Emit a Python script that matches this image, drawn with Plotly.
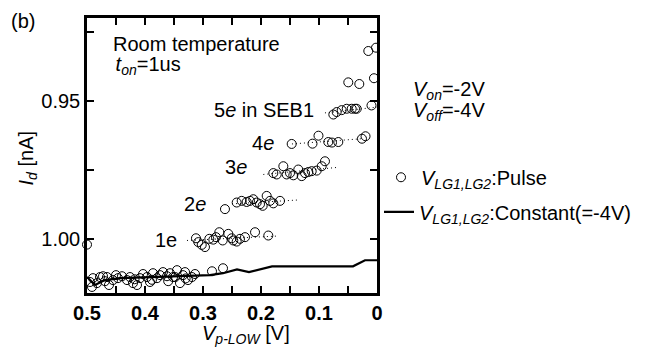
import plotly.graph_objects as go

FONT = "Liberation Sans, Arial, sans-serif"

# ---- data ----
# baseline (0e) pulse points
x0 = [0.4948, 0.4914, 0.4897, 0.4828, 0.4776, 0.4724, 0.4690, 0.4655, 0.4621, 0.4552,
      0.4500, 0.4466, 0.4397, 0.4310, 0.4259, 0.4207, 0.4180, 0.4138, 0.4086, 0.4034,
      0.3966, 0.3914, 0.3880, 0.3862, 0.3793, 0.3741, 0.3690, 0.3621, 0.3600, 0.3569,
      0.3517, 0.3480, 0.3448, 0.3397, 0.3345, 0.3310, 0.3300, 0.3259, 0.3190, 0.3138,
      0.2845, 0.2655]
y0 = [1.0158, 1.0176, 1.0144, 1.0162, 1.0140, 1.0137, 1.0155, 1.0140, 1.0169, 1.0151,
      1.0133, 1.0144, 1.0137, 1.0151, 1.0140, 1.0162, 1.0148, 1.0169, 1.0144, 1.0129,
      1.0140, 1.0158, 1.0150, 1.0126, 1.0144, 1.0133, 1.0122, 1.0137, 1.0155, 1.0126,
      1.0140, 1.0140, 1.0115, 1.0162, 1.0133, 1.0122, 1.0145, 1.0151, 1.0140, 1.0129,
      1.0119, 1.0108]
# 1e
x1 = [0.3121, 0.3081, 0.3022, 0.2966, 0.2891, 0.2822, 0.2776, 0.2719, 0.2660, 0.2564,
      0.2505, 0.2478, 0.2419, 0.2362, 0.2276, 0.2103, 0.1874]
y1 = [0.9999, 1.0013, 1.0023, 1.0031, 1.0001, 1.0004, 0.9995, 0.9977, 1.0007, 0.9983,
      0.9999, 1.0007, 1.0011, 1.0001, 0.9995, 0.9977, 0.9989]
# 2e
x2 = [0.2621, 0.2419, 0.2333, 0.2247, 0.2190, 0.2133, 0.2074, 0.2017, 0.1971, 0.1902,
      0.1845, 0.1788, 0.1672]
y2 = [0.9893, 0.9869, 0.9863, 0.9867, 0.9863, 0.9857, 0.9869, 0.9875, 0.9881, 0.9845,
      0.9863, 0.9872, 0.9863]
# 3e
x3 = [0.1788, 0.1729, 0.1615, 0.1557, 0.1500, 0.1443, 0.1357, 0.1298, 0.1241, 0.1184,
      0.1126, 0.1040, 0.0953, 0.0897]
y3 = [0.9762, 0.9767, 0.9737, 0.9767, 0.9762, 0.9770, 0.9749, 0.9773, 0.9762, 0.9758,
      0.9755, 0.9753, 0.9737, 0.9719]
# 4e
x4 = [0.1471, 0.1112, 0.1009, 0.0840, 0.0776, 0.0667, 0.0259, 0.0198]
y4 = [0.9656, 0.9655, 0.9626, 0.9649, 0.9651, 0.9649, 0.9637, 0.9628]
# 5e
x5 = [0.0753, 0.0695, 0.0609, 0.0522, 0.0436, 0.0379, 0.0350, 0.0095]
y5 = [0.9549, 0.9540, 0.9533, 0.9528, 0.9528, 0.9528, 0.9528, 0.9516]
# higher points near 0 V
x6 = [0.0495, 0.0305, 0.0052, 0.0150, 0.0017]
y6 = [0.9432, 0.9438, 0.9417, 0.9318, 0.9306]
# stray point at left edge
x_edge = [0.5]
y_edge = [1.0022]

# dotted guide lines (start, end) for 1e..5e
fit_x = [[0.3276, 0.1724], [0.2500, 0.1379], [0.1960, 0.0667], [0.1466, 0.0259], [0.0897, 0.0]]
fit_y = [[1.0007, 0.9991], [0.9874, 0.9860], [0.9767, 0.9741], [0.9656, 0.9637], [0.9543, 0.9522]]

# constant-gate reference line
xc = [0.5, 0.4862, 0.4690, 0.4431, 0.3914, 0.3224, 0.2879, 0.2655, 0.2414, 0.2207,
      0.1810, 0.0414, 0.0207, 0.0]
yc = [1.0140, 1.0169, 1.0151, 1.0144, 1.0140, 1.0137, 1.0133, 1.0126, 1.0112, 1.0122,
      1.0101, 1.0101, 1.0079, 1.0079]

x_ticks = [0.5, 0.4, 0.3, 0.2, 0.1, 0.0]
x_ticklabels = ["0.5", "0.4", "0.3", "0.2", "0.1", "0"]
y_ticks = [0.95, 1.00]
y_ticklabels = ["0.95", "1.00"]

xp = x0 + x1 + x2 + x3 + x4 + x5 + x6
yp = y0 + y1 + y2 + y3 + y4 + y5 + y6

fig = go.Figure()

for fx, fy in zip(fit_x, fit_y):
    fig.add_trace(go.Scatter(x=fx, y=fy, mode="lines", showlegend=False,
                             line=dict(color="black", width=1, dash="1px,3px"),
                             hoverinfo="skip"))

fig.add_trace(go.Scatter(
    x=xp, y=yp, mode="markers",
    name="<i>V</i><sub><i>LG1,LG2</i></sub>:Pulse",
    marker=dict(symbol="circle-open", size=9, color="black", line=dict(width=1)),
    legend="legend"))

fig.add_trace(go.Scatter(
    x=x_edge, y=y_edge, mode="markers", showlegend=False, cliponaxis=False,
    marker=dict(symbol="circle-open", size=9, color="black", line=dict(width=1))))

fig.add_trace(go.Scatter(
    x=xc, y=yc, mode="lines",
    name="<i>V</i><sub><i>LG1,LG2</i></sub>:Constant(=-4V)",
    line=dict(color="black", width=2.2),
    legend="legend2"))

# page offset (body margin) and plot-area edges in screen pixels
OFF = 8
L, R, T, B = 87, 377, 15, 293
W, H = 656, 351
pw, ph = R - L, B - T


def px(xpix):
    return (xpix - L) / pw


def py(ypix):
    return (B - ypix) / ph


FS = 20
annos = [
    ("(b)", 9, 18, "left", "middle"),
    ("Room temperature", 111, 41, "left", "middle"),
    (" <i>t</i><sub><i>on</i></sub>=1us", 108, 63, "left", "middle"),
    ("5<i>e</i> in SEB1", 316, 108, "right", "middle"),
    ("4<i>e</i>", 276, 141, "right", "middle"),
    ("3<i>e</i>", 249, 166, "right", "middle"),
    ("2<i>e</i>", 208, 203, "right", "middle"),
    ("1e", 179, 239, "right", "middle"),
    ("<i>V</i><sub><i>on</i></sub>=-2V", 411, 88, "left", "middle"),
    ("<i>V</i><sub><i>off</i></sub>=-4V", 411, 110, "left", "middle"),
    ("<i>V</i><sub><i>p-LOW</i></sub> [V]", 246, 335, "center", "middle"),
]
for text, x, y, xa, ya in annos:
    fig.add_annotation(text=text, x=px(x), y=py(y), xref="paper", yref="paper",
                       xanchor=xa, yanchor=ya, showarrow=False,
                       font=dict(family=FONT, size=FS, color="black"))

fig.add_annotation(text="<i>I</i><sub><i>d</i></sub> [nA]", x=px(27), y=py(157),
                   xref="paper", yref="paper", textangle=-90,
                   xanchor="center", yanchor="middle", showarrow=False,
                   font=dict(family=FONT, size=FS, color="black"))

axis_common = dict(showline=True, linecolor="black", linewidth=2.5, mirror="ticks",
                   ticks="inside", ticklen=7, tickwidth=2, tickcolor="black",
                   showgrid=False, zeroline=False)

fig.update_layout(
    width=W, height=H,
    margin=dict(l=L - OFF, r=W - R + OFF, t=T - OFF, b=H - B + OFF),
    paper_bgcolor="white", plot_bgcolor="white",
    font=dict(family=FONT, size=FS, color="black"),
    xaxis=dict(range=[0.5, 0.0], tickvals=x_ticks, ticktext=x_ticklabels,
               tickfont=dict(family=FONT, size=FS, color="black", weight="bold"),
               minor=dict(tickvals=[0.45, 0.35, 0.25, 0.15, 0.05], ticks="inside",
                          ticklen=7, tickwidth=2, tickcolor="black"),
               **axis_common),
    yaxis=dict(range=[1.0198, 0.9198], tickvals=y_ticks, ticktext=y_ticklabels,
               tickfont=dict(family=FONT, size=FS, color="black"),
               minor=dict(tickvals=[0.925, 0.975], ticks="inside",
                          ticklen=7, tickwidth=2, tickcolor="black"),
               **axis_common),
    legend=dict(x=px(381), y=py(176), xanchor="left", yanchor="middle",
                bgcolor="rgba(0,0,0,0)", borderwidth=0,
                font=dict(family=FONT, size=FS, color="black")),
    legend2=dict(x=px(379), y=py(211), xanchor="left", yanchor="middle",
                 bgcolor="rgba(0,0,0,0)", borderwidth=0,
                 font=dict(family=FONT, size=FS, color="black")),
)

fig.write_html("out.html")
